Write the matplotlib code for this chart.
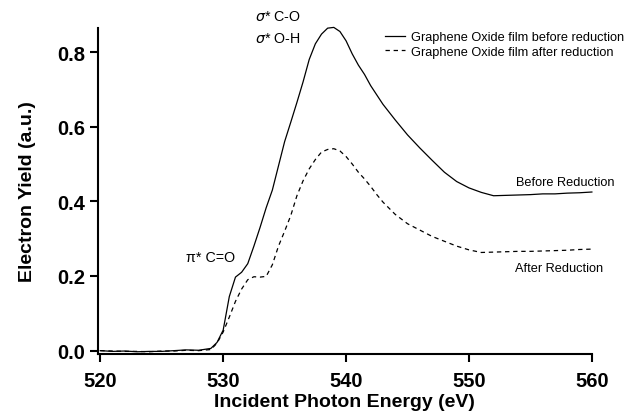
import numpy as np
import matplotlib.pyplot as plt

plt.rcParams['font.family'] = ['Liberation Sans', 'DejaVu Sans']

# photon energy (eV) and electron yield
energy_before = [520, 521, 522, 523, 524, 525, 526, 527, 528, 529, 529.5, 530, 530.5, 531, 531.5,
                 532, 532.5, 533, 533.5, 534, 534.5, 535, 535.5, 536, 536.5, 537, 537.5, 538,
                 538.5, 539, 539.5, 540, 540.5, 541, 541.5, 542, 543, 544, 545, 546, 547, 548,
                 549, 550, 551, 552, 553, 554, 555, 556, 557, 558, 559, 560]
yield_before = [0.0, -0.002, -0.001, -0.003, -0.002, -0.002, 0.0, 0.002, 0.001, 0.006, 0.022,
                0.055, 0.145, 0.197, 0.21, 0.233, 0.28, 0.33, 0.383, 0.43, 0.495, 0.56, 0.612,
                0.665, 0.72, 0.78, 0.822, 0.848, 0.864, 0.866, 0.855, 0.83, 0.795, 0.765,
                0.74, 0.71, 0.66, 0.618, 0.578, 0.543, 0.51, 0.478, 0.453, 0.436, 0.424,
                0.415, 0.416, 0.417, 0.418, 0.42, 0.42, 0.422, 0.423, 0.425]

energy_after = [520, 521, 522, 523, 524, 525, 526, 527, 528, 529, 529.5, 530, 530.5, 531, 531.5,
                532, 532.5, 533, 533.5, 534, 534.5, 535, 535.5, 536, 536.5, 537, 537.5, 538,
                538.5, 539, 539.5, 540, 540.5, 541, 541.5, 542, 542.5, 543, 544, 545, 546, 547,
                548, 549, 550, 551, 552, 553, 554, 555, 556, 557, 558, 559, 560]
yield_after = [0.0, -0.001, -0.002, -0.002, -0.003, -0.001, -0.001, 0.001, 0.0, 0.003, 0.02,
               0.05, 0.09, 0.132, 0.165, 0.19, 0.198, 0.197, 0.199, 0.23, 0.28, 0.32, 0.362,
               0.415, 0.455, 0.487, 0.512, 0.532, 0.539, 0.541, 0.535, 0.52, 0.5, 0.478, 0.46,
               0.44, 0.418, 0.398, 0.365, 0.34, 0.323, 0.306, 0.293, 0.28, 0.27, 0.263, 0.264,
               0.265, 0.266, 0.266, 0.267, 0.268, 0.269, 0.271, 0.272]

x_ticks = [520, 530, 540, 550, 560]
y_ticks = [0.0, 0.2, 0.4, 0.6, 0.8]

fig = plt.figure(figsize=(6.27, 4.14), dpi=100)
ax = fig.add_axes([0.156, 0.1425, 0.788, 0.788])

ax.plot(energy_before, yield_before, color='black', lw=0.9,
        label='Graphene Oxide film before reduction', clip_on=False)
ax.plot(energy_after, yield_after, color='black', lw=0.9, dashes=(3.5, 3),
        label='Graphene Oxide film after reduction', clip_on=False)

ax.set_xlim(519.8, 560)
ax.set_ylim(-0.009, 0.865)
ax.set_xticks(x_ticks)
ax.set_yticks(y_ticks)
ax.set_yticklabels(['%.1f' % v for v in y_ticks])
for s in ['top', 'right']:
    ax.spines[s].set_visible(False)
for s in ['left', 'bottom']:
    ax.spines[s].set_linewidth(1.5)
ax.tick_params(width=1.5, length=5.5, labelsize=14.5)
ax.tick_params(axis='x', pad=7)
ax.tick_params(axis='y', pad=3.5)
for lab in ax.get_xticklabels() + ax.get_yticklabels():
    lab.set_fontweight('bold')

ax.set_xlabel('Incident Photon Energy (eV)', fontsize=14, fontweight='bold', labelpad=2)
ax.set_ylabel('Electron Yield (a.u.)', fontsize=14, fontweight='bold', labelpad=15.5)

fig.legend(*ax.get_legend_handles_labels(), loc='upper left',
           bbox_to_anchor=(385 / 627, 1 - 32 / 414), frameon=False, fontsize=9.2,
           handlelength=1.6, handletextpad=0.45, labelspacing=0.2,
           borderpad=0, borderaxespad=0)

ax.text(255 / 627, 1 - 17 / 414, r'$\sigma$* C-O', transform=fig.transFigure,
        fontsize=10.3, va='center', ha='left')
ax.text(255 / 627, 1 - 39 / 414, r'$\sigma$* O-H', transform=fig.transFigure,
        fontsize=10.3, va='center', ha='left')
ax.text(186 / 627, 1 - 258 / 414, 'π* C=O', transform=fig.transFigure,
        fontsize=10.3, va='center', ha='left')
ax.text(516 / 627, 1 - 183 / 414, 'Before Reduction', transform=fig.transFigure,
        fontsize=9.2, va='center', ha='left')
ax.text(515 / 627, 1 - 269 / 414, 'After Reduction', transform=fig.transFigure,
        fontsize=9.2, va='center', ha='left')

plt.savefig('out.png', dpi=100)
